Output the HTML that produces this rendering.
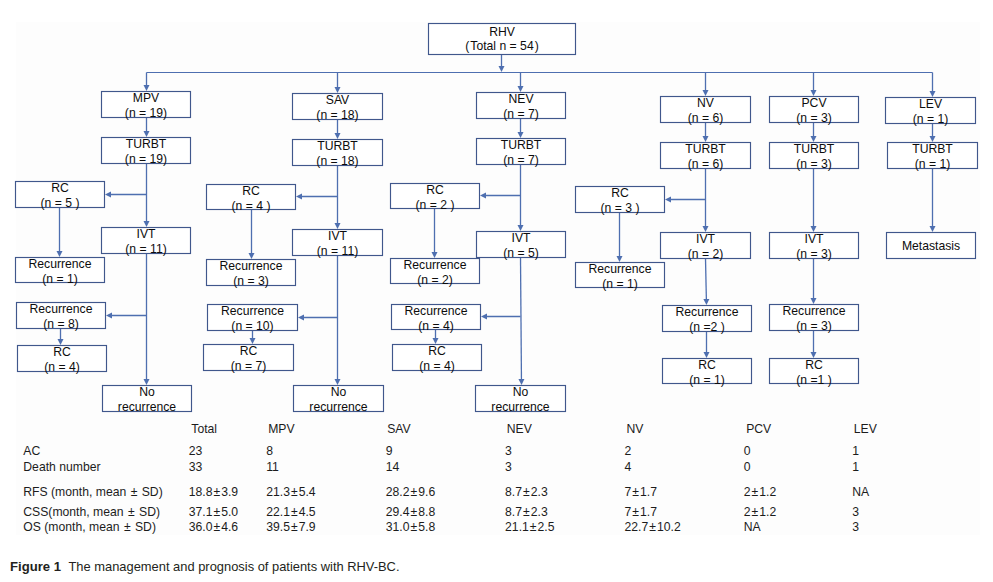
<!DOCTYPE html>
<html><head><meta charset="utf-8"><style>
html,body{margin:0;padding:0;background:#fff;width:993px;height:582px;overflow:hidden;font-family:"Liberation Sans",sans-serif;}
svg{display:block;}
</style></head><body>
<svg width="993" height="582" viewBox="0 0 993 582">
<rect x="16" y="22" width="964" height="513" fill="#fdfdfd"/>
<g stroke="#4e6fb0" stroke-width="1.3" fill="#4e6fb0">
<line stroke-width="1.1" x1="146.5" y1="72.5" x2="932.5" y2="72.5"/>
<line x1="501.5" y1="54.5" x2="501.50" y2="67.00"/><polygon stroke="none" points="501.50,72.00 498.50,66.00 504.50,66.00"/>
<line x1="146.5" y1="72.5" x2="146.50" y2="86.00"/><polygon stroke="none" points="146.50,91.00 143.50,85.00 149.50,85.00"/>
<line x1="337.5" y1="72.5" x2="337.50" y2="88.00"/><polygon stroke="none" points="337.50,93.00 334.50,87.00 340.50,87.00"/>
<line x1="520.5" y1="72.5" x2="520.50" y2="87.00"/><polygon stroke="none" points="520.50,92.00 517.50,86.00 523.50,86.00"/>
<line x1="705.5" y1="72.5" x2="705.50" y2="91.00"/><polygon stroke="none" points="705.50,96.00 702.50,90.00 708.50,90.00"/>
<line x1="813.5" y1="72.5" x2="813.50" y2="91.00"/><polygon stroke="none" points="813.50,96.00 810.50,90.00 816.50,90.00"/>
<line x1="932.5" y1="72.5" x2="932.50" y2="92.00"/><polygon stroke="none" points="932.50,97.00 929.50,91.00 935.50,91.00"/>
<line x1="146.5" y1="117.5" x2="146.50" y2="132.00"/><polygon stroke="none" points="146.50,137.00 143.50,131.00 149.50,131.00"/>
<line x1="146.5" y1="163.5" x2="146.50" y2="222.00"/><polygon stroke="none" points="146.50,227.00 143.50,221.00 149.50,221.00"/>
<line x1="146.5" y1="194.5" x2="110.00" y2="194.50"/><polygon stroke="none" points="105.00,194.50 111.00,191.50 111.00,197.50"/>
<line x1="59.5" y1="207.5" x2="59.50" y2="252.00"/><polygon stroke="none" points="59.50,257.00 56.50,251.00 62.50,251.00"/>
<line x1="146.5" y1="253.5" x2="146.50" y2="380.00"/><polygon stroke="none" points="146.50,385.00 143.50,379.00 149.50,379.00"/>
<line x1="146.5" y1="315.5" x2="111.00" y2="315.50"/><polygon stroke="none" points="106.00,315.50 112.00,312.50 112.00,318.50"/>
<line x1="60.5" y1="328.5" x2="60.50" y2="340.00"/><polygon stroke="none" points="60.50,345.00 57.50,339.00 63.50,339.00"/>
<line x1="337.5" y1="119.5" x2="337.50" y2="134.00"/><polygon stroke="none" points="337.50,139.00 334.50,133.00 340.50,133.00"/>
<line x1="337.5" y1="165.5" x2="337.50" y2="224.00"/><polygon stroke="none" points="337.50,229.00 334.50,223.00 340.50,223.00"/>
<line x1="337.5" y1="196.5" x2="301.00" y2="196.50"/><polygon stroke="none" points="296.00,196.50 302.00,193.50 302.00,199.50"/>
<line x1="251.5" y1="209.5" x2="251.50" y2="254.00"/><polygon stroke="none" points="251.50,259.00 248.50,253.00 254.50,253.00"/>
<line x1="337.5" y1="255.5" x2="337.50" y2="380.00"/><polygon stroke="none" points="337.50,385.00 334.50,379.00 340.50,379.00"/>
<line x1="337.5" y1="317.5" x2="303.00" y2="317.50"/><polygon stroke="none" points="298.00,317.50 304.00,314.50 304.00,320.50"/>
<line x1="252.5" y1="330.5" x2="252.50" y2="339.00"/><polygon stroke="none" points="252.50,344.00 249.50,338.00 255.50,338.00"/>
<line x1="520.5" y1="118.5" x2="520.50" y2="133.00"/><polygon stroke="none" points="520.50,138.00 517.50,132.00 523.50,132.00"/>
<line x1="520.5" y1="164.5" x2="520.50" y2="226.00"/><polygon stroke="none" points="520.50,231.00 517.50,225.00 523.50,225.00"/>
<line x1="520.5" y1="195.5" x2="485.00" y2="195.50"/><polygon stroke="none" points="480.00,195.50 486.00,192.50 486.00,198.50"/>
<line x1="434.5" y1="208.5" x2="434.50" y2="253.00"/><polygon stroke="none" points="434.50,258.00 431.50,252.00 437.50,252.00"/>
<line x1="520.5" y1="257.5" x2="521.46" y2="380.00"/><polygon stroke="none" points="521.50,385.00 518.45,379.02 524.45,378.98"/>
<line x1="520.5" y1="316.5" x2="486.00" y2="316.50"/><polygon stroke="none" points="481.00,316.50 487.00,313.50 487.00,319.50"/>
<line x1="435.5" y1="329.5" x2="435.50" y2="339.00"/><polygon stroke="none" points="435.50,344.00 432.50,338.00 438.50,338.00"/>
<line x1="705.5" y1="122.5" x2="705.50" y2="137.00"/><polygon stroke="none" points="705.50,142.00 702.50,136.00 708.50,136.00"/>
<line x1="705.5" y1="168.5" x2="705.50" y2="227.00"/><polygon stroke="none" points="705.50,232.00 702.50,226.00 708.50,226.00"/>
<line x1="705.5" y1="199.5" x2="670.00" y2="199.50"/><polygon stroke="none" points="665.00,199.50 671.00,196.50 671.00,202.50"/>
<line x1="619.5" y1="212.5" x2="619.50" y2="257.00"/><polygon stroke="none" points="619.50,262.00 616.50,256.00 622.50,256.00"/>
<line x1="705.5" y1="258.5" x2="706.38" y2="300.00"/><polygon stroke="none" points="706.49,305.00 703.36,299.07 709.36,298.94"/>
<line x1="706.5" y1="330.5" x2="706.50" y2="353.00"/><polygon stroke="none" points="706.50,358.00 703.50,352.00 709.50,352.00"/>
<line x1="813.5" y1="122.5" x2="813.50" y2="137.00"/><polygon stroke="none" points="813.50,142.00 810.50,136.00 816.50,136.00"/>
<line x1="813.5" y1="168.5" x2="813.50" y2="227.00"/><polygon stroke="none" points="813.50,232.00 810.50,226.00 816.50,226.00"/>
<line x1="813.5" y1="258.5" x2="813.50" y2="299.00"/><polygon stroke="none" points="813.50,304.00 810.50,298.00 816.50,298.00"/>
<line x1="813.5" y1="330.5" x2="813.50" y2="353.00"/><polygon stroke="none" points="813.50,358.00 810.50,352.00 816.50,352.00"/>
<line x1="932.5" y1="123.5" x2="932.50" y2="137.00"/><polygon stroke="none" points="932.50,142.00 929.50,136.00 935.50,136.00"/>
<line x1="932.5" y1="168.5" x2="932.50" y2="227.00"/><polygon stroke="none" points="932.50,232.00 929.50,226.00 935.50,226.00"/>
</g>
<g fill="#fff" stroke="#40578c" stroke-width="1.15">
<rect x="428.5" y="23.5" width="147.0" height="31.0"/>
<rect x="101.5" y="91.5" width="89.0" height="26.0"/>
<rect x="101.5" y="137.5" width="89.0" height="26.0"/>
<rect x="15.5" y="181.5" width="89.0" height="26.0"/>
<rect x="15.5" y="257.5" width="89.0" height="25.0"/>
<rect x="101.5" y="227.5" width="89.0" height="26.0"/>
<rect x="16.5" y="302.5" width="89.0" height="26.0"/>
<rect x="17.5" y="345.5" width="89.0" height="26.0"/>
<rect x="102.5" y="385.5" width="89.0" height="26.0"/>
<rect x="292.5" y="93.5" width="90.0" height="26.0"/>
<rect x="292.5" y="139.5" width="90.0" height="26.0"/>
<rect x="206.5" y="184.5" width="89.0" height="25.0"/>
<rect x="206.5" y="259.5" width="89.0" height="26.0"/>
<rect x="292.5" y="229.5" width="90.0" height="26.0"/>
<rect x="207.5" y="304.5" width="90.0" height="26.0"/>
<rect x="203.5" y="344.5" width="90.0" height="26.0"/>
<rect x="293.5" y="385.5" width="90.0" height="26.0"/>
<rect x="476.5" y="92.5" width="89.0" height="26.0"/>
<rect x="476.5" y="138.5" width="89.0" height="26.0"/>
<rect x="390.5" y="183.5" width="89.0" height="25.0"/>
<rect x="390.5" y="258.5" width="89.0" height="25.0"/>
<rect x="476.5" y="231.5" width="89.0" height="26.0"/>
<rect x="391.5" y="304.5" width="89.0" height="25.0"/>
<rect x="392.5" y="344.5" width="89.0" height="26.0"/>
<rect x="475.5" y="385.5" width="90.0" height="26.0"/>
<rect x="660.5" y="96.5" width="90.0" height="26.0"/>
<rect x="660.5" y="142.5" width="90.0" height="26.0"/>
<rect x="575.5" y="186.5" width="89.0" height="26.0"/>
<rect x="575.5" y="262.5" width="89.0" height="25.0"/>
<rect x="660.5" y="232.5" width="90.0" height="26.0"/>
<rect x="662.5" y="305.5" width="89.0" height="26.0"/>
<rect x="662.5" y="358.5" width="89.0" height="25.0"/>
<rect x="769.5" y="96.5" width="89.0" height="26.0"/>
<rect x="769.5" y="142.5" width="89.0" height="26.0"/>
<rect x="769.5" y="232.5" width="89.0" height="26.0"/>
<rect x="769.5" y="304.5" width="89.0" height="26.0"/>
<rect x="769.5" y="358.5" width="89.0" height="25.0"/>
<rect x="885.5" y="97.5" width="90.0" height="26.0"/>
<rect x="887.5" y="142.5" width="90.0" height="26.0"/>
<rect x="886.5" y="232.5" width="89.0" height="26.0"/>
</g>
<g font-family="Liberation Sans, sans-serif" font-size="12.2" fill="#0d0d0d" text-anchor="middle">
<text x="502.0" y="35.9">RHV</text>
<text x="502.0" y="49.9"><tspan>(</tspan><tspan dx="1">Total n = 54</tspan><tspan dx="1">)</tspan></text>
<text x="146.0" y="102.0">MPV</text>
<text x="146.0" y="116.8">(n = 19)</text>
<text x="146.0" y="148.0">TURBT</text>
<text x="146.0" y="162.8">(n = 19)</text>
<text x="60.0" y="192.0">RC</text>
<text x="60.0" y="206.8">(n = 5 )</text>
<text x="60.0" y="268.0">Recurrence</text>
<text x="60.0" y="282.8">(n = 1)</text>
<text x="146.0" y="238.0">IVT</text>
<text x="146.0" y="252.8">(n = 11)</text>
<text x="61.0" y="313.0">Recurrence</text>
<text x="61.0" y="327.8">(n = 8)</text>
<text x="62.0" y="356.0">RC</text>
<text x="62.0" y="370.8">(n = 4)</text>
<text x="147.0" y="396.0">No</text>
<text x="147.0" y="410.8">recurrence</text>
<text x="337.5" y="104.0">SAV</text>
<text x="337.5" y="118.8">(n = 18)</text>
<text x="337.5" y="150.0">TURBT</text>
<text x="337.5" y="164.8">(n = 18)</text>
<text x="251.0" y="195.0">RC</text>
<text x="251.0" y="209.8">(n = 4 )</text>
<text x="251.0" y="270.0">Recurrence</text>
<text x="251.0" y="284.8">(n = 3)</text>
<text x="337.5" y="240.0">IVT</text>
<text x="337.5" y="254.8">(n = 11)</text>
<text x="252.5" y="315.0">Recurrence</text>
<text x="252.5" y="329.8">(n = 10)</text>
<text x="248.5" y="355.0">RC</text>
<text x="248.5" y="369.8">(n = 7)</text>
<text x="338.5" y="396.0">No</text>
<text x="338.5" y="410.8">recurrence</text>
<text x="521.0" y="103.0">NEV</text>
<text x="521.0" y="117.8">(n = 7)</text>
<text x="521.0" y="149.0">TURBT</text>
<text x="521.0" y="163.8">(n = 7)</text>
<text x="435.0" y="194.0">RC</text>
<text x="435.0" y="208.8">(n = 2 )</text>
<text x="435.0" y="269.0">Recurrence</text>
<text x="435.0" y="283.8">(n = 2)</text>
<text x="521.0" y="242.0">IVT</text>
<text x="521.0" y="256.8">(n = 5)</text>
<text x="436.0" y="315.0">Recurrence</text>
<text x="436.0" y="329.8">(n = 4)</text>
<text x="437.0" y="355.0">RC</text>
<text x="437.0" y="369.8">(n = 4)</text>
<text x="520.5" y="396.0">No</text>
<text x="520.5" y="410.8">recurrence</text>
<text x="705.5" y="107.0">NV</text>
<text x="705.5" y="121.8">(n = 6)</text>
<text x="705.5" y="153.0">TURBT</text>
<text x="705.5" y="167.8">(n = 6)</text>
<text x="620.0" y="197.0">RC</text>
<text x="620.0" y="211.8">(n = 3 )</text>
<text x="620.0" y="273.0">Recurrence</text>
<text x="620.0" y="287.8">(n = 1)</text>
<text x="705.5" y="243.0">IVT</text>
<text x="705.5" y="257.8">(n = 2)</text>
<text x="707.0" y="316.0">Recurrence</text>
<text x="707.0" y="330.8">(n =2 )</text>
<text x="707.0" y="369.0">RC</text>
<text x="707.0" y="383.8">(n = 1)</text>
<text x="814.0" y="107.0">PCV</text>
<text x="814.0" y="121.8">(n = 3)</text>
<text x="814.0" y="153.0">TURBT</text>
<text x="814.0" y="167.8">(n = 3)</text>
<text x="814.0" y="243.0">IVT</text>
<text x="814.0" y="257.8">(n = 3)</text>
<text x="814.0" y="315.0">Recurrence</text>
<text x="814.0" y="329.8">(n = 3)</text>
<text x="814.0" y="369.0">RC</text>
<text x="814.0" y="383.8">(n =1 )</text>
<text x="930.5" y="108.0">LEV</text>
<text x="930.5" y="122.8">(n = 1)</text>
<text x="932.5" y="153.0">TURBT</text>
<text x="932.5" y="167.8">(n = 1)</text>
<text x="931.0" y="250.2">Metastasis</text>
</g>
<g font-family="Liberation Sans, sans-serif" font-size="12.2" fill="#1c1c1c">
<text x="191.3" y="432.5">Total</text>
<text x="268.2" y="432.5">MPV</text>
<text x="387.2" y="432.5">SAV</text>
<text x="506.8" y="432.5">NEV</text>
<text x="626.4" y="432.5">NV</text>
<text x="746.2" y="432.5">PCV</text>
<text x="853.8" y="432.5">LEV</text>
<text x="23.3" y="454.7">AC</text>
<text x="188.7" y="454.7">23</text>
<text x="266.2" y="454.7">8</text>
<text x="385.8" y="454.7">9</text>
<text x="505.1" y="454.7">3</text>
<text x="624.5" y="454.7">2</text>
<text x="743.8" y="454.7">0</text>
<text x="852.2" y="454.7">1</text>
<text x="23.3" y="470.8">Death number</text>
<text x="188.7" y="470.8">33</text>
<text x="266.2" y="470.8">11</text>
<text x="385.8" y="470.8">14</text>
<text x="505.1" y="470.8">3</text>
<text x="624.5" y="470.8">4</text>
<text x="743.8" y="470.8">0</text>
<text x="852.2" y="470.8">1</text>
<text x="23.3" y="495.9">RFS (month, mean <tspan dx="1">±</tspan><tspan dx="1"> SD)</tspan></text>
<text x="188.7" y="495.9">18.8<tspan dx="1">±</tspan><tspan dx="1">3.9</tspan></text>
<text x="266.2" y="495.9">21.3<tspan dx="1">±</tspan><tspan dx="1">5.4</tspan></text>
<text x="385.8" y="495.9">28.2<tspan dx="1">±</tspan><tspan dx="1">9.6</tspan></text>
<text x="505.1" y="495.9">8.7<tspan dx="1">±</tspan><tspan dx="1">2.3</tspan></text>
<text x="624.5" y="495.9">7<tspan dx="1">±</tspan><tspan dx="1">1.7</tspan></text>
<text x="743.8" y="495.9">2<tspan dx="1">±</tspan><tspan dx="1">1.2</tspan></text>
<text x="852.2" y="495.9">NA</text>
<text x="23.3" y="515.5">CSS(month, mean <tspan dx="1">±</tspan><tspan dx="1"> SD)</tspan></text>
<text x="188.7" y="515.5">37.1<tspan dx="1">±</tspan><tspan dx="1">5.0</tspan></text>
<text x="266.2" y="515.5">22.1<tspan dx="1">±</tspan><tspan dx="1">4.5</tspan></text>
<text x="385.8" y="515.5">29.4<tspan dx="1">±</tspan><tspan dx="1">8.8</tspan></text>
<text x="505.1" y="515.5">8.7<tspan dx="1">±</tspan><tspan dx="1">2.3</tspan></text>
<text x="624.5" y="515.5">7<tspan dx="1">±</tspan><tspan dx="1">1.7</tspan></text>
<text x="743.8" y="515.5">2<tspan dx="1">±</tspan><tspan dx="1">1.2</tspan></text>
<text x="852.2" y="515.5">3</text>
<text x="23.3" y="531.0">OS (month, mean <tspan dx="1">±</tspan><tspan dx="1"> SD)</tspan></text>
<text x="188.7" y="531.0">36.0<tspan dx="1">±</tspan><tspan dx="1">4.6</tspan></text>
<text x="266.2" y="531.0">39.5<tspan dx="1">±</tspan><tspan dx="1">7.9</tspan></text>
<text x="385.8" y="531.0">31.0<tspan dx="1">±</tspan><tspan dx="1">5.8</tspan></text>
<text x="505.1" y="531.0">21.1<tspan dx="1">±</tspan><tspan dx="1">2.5</tspan></text>
<text x="624.5" y="531.0">22.7<tspan dx="1">±</tspan><tspan dx="1">10.2</tspan></text>
<text x="743.8" y="531.0">NA</text>
<text x="852.2" y="531.0">3</text>
</g>
<text x="10" y="571.1" font-family="Liberation Sans, sans-serif" font-size="13.5" fill="#231f20" textLength="51" lengthAdjust="spacingAndGlyphs" font-weight="bold">Figure 1</text>
<text x="68.5" y="571.1" font-family="Liberation Sans, sans-serif" font-size="13.5" fill="#231f20" textLength="331" lengthAdjust="spacingAndGlyphs">The management and prognosis of patients with RHV-BC.</text>
</svg>
</body></html>
